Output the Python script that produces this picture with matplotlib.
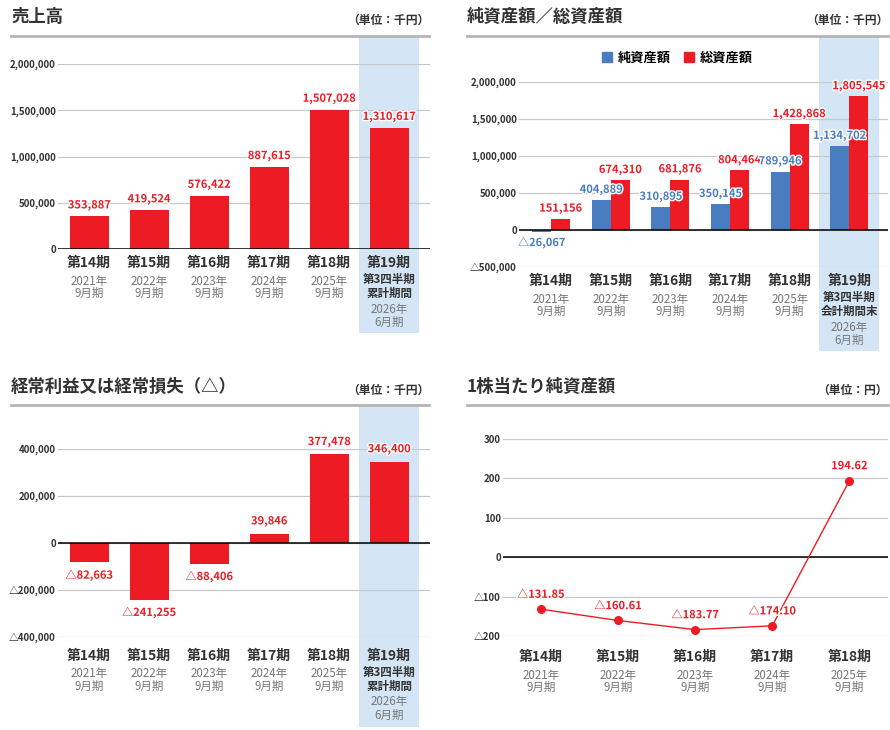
import matplotlib
matplotlib.use("Agg")
import matplotlib.pyplot as plt
import matplotlib.transforms as mtransforms
import matplotlib.patheffects as pe
from matplotlib.patches import Rectangle, Patch
from matplotlib.lines import Line2D
from matplotlib.ticker import FuncFormatter

plt.rcParams['font.family'] = ['Noto Sans CJK JP', 'DejaVu Sans']

# --- data (千円 / 円) ---
periods = ['第14期', '第15期', '第16期', '第17期', '第18期', '第19期']
years = ['2021年', '2022年', '2023年', '2024年', '2025年', '2026年']
months = ['9月期', '9月期', '9月期', '9月期', '9月期', '6月期']
q3_cumulative = ['第3四半期', '累計期間']
q3_end = ['第3四半期', '会計期間末']

sales = [353887, 419524, 576422, 887615, 1507028, 1310617]
net_assets = [-26067, 404889, 310895, 350145, 789946, 1134702]
total_assets = [151156, 674310, 681876, 804464, 1428868, 1805545]
ordinary_profit = [-82663, -241255, -88406, 39846, 377478, 346400]
bps = [-131.85, -160.61, -183.77, -174.10, 194.62]

sales_ticks = [0, 500000, 1000000, 1500000, 2000000]
assets_ticks = [-500000, 0, 500000, 1000000, 1500000, 2000000]
profit_ticks = [-400000, -200000, 0, 200000, 400000]
bps_ticks = [-200, -100, 0, 100, 200, 300]

RED = '#ed1c24'
BLUE = '#4a7dbf'
BAND = '#d4e6f6'
DARK = '#333333'
GRAY = '#777777'

W, H = 890, 730
fig = plt.figure(figsize=(W / 100, H / 100), dpi=100)
halo = [pe.withStroke(linewidth=2, foreground='white')]


def fy(py):
    return 1 - py / H


def axes_px(x0, y0, x1, y1):
    return fig.add_axes([x0 / W, 1 - y1 / H, (x1 - x0) / W, (y1 - y0) / H])


def fmt(v, dec=0):
    s = f"{abs(v):,.{dec}f}"
    return ('△' if v < 0 else '') + s


def header(title, unit, x0, x1, y_title, y_line):
    fig.text(x0 / W, fy(y_title), title, fontsize=12.5, weight='bold',
             ha='left', va='center', color=DARK)
    fig.text(x1 / W, fy(y_title + 3), unit, fontsize=8.5, weight='bold',
             ha='right', va='center', color=DARK)
    fig.add_artist(Line2D([x0 / W, x1 / W], [fy(y_line)] * 2,
                          color='#b5b5b5', lw=2))


def style_axes(ax, ticks, ylim, xlim, dec=0):
    ax.set_xlim(*xlim)
    ax.set_ylim(*ylim)
    ax.set_yticks(ticks)
    ax.yaxis.set_major_formatter(FuncFormatter(lambda v, p: fmt(v, dec)))
    ax.set_xticks([])
    for s in ax.spines.values():
        s.set_visible(False)
    ax.tick_params(axis='y', length=0, pad=1.5, labelsize=7, labelcolor=DARK)
    for t in ax.get_yticklabels():
        t.set_fontweight('bold')
    ax.set_axisbelow(True)
    ax.grid(axis='y', color='#c8c8c8', lw=0.9, zorder=0.5)
    ax.axhline(0, color='black', lw=1.1, zorder=3)
    ax.patch.set_alpha(0)


def band(ax, y_top, y_bottom):
    tr = mtransforms.blended_transform_factory(ax.transData, fig.transFigure)
    r = Rectangle((4.5, fy(y_bottom)), 1.0, fy(y_top) - fy(y_bottom),
                  transform=tr, facecolor=BAND, edgecolor='none',
                  clip_on=False, zorder=0.1)
    ax.add_artist(r)


def cat_labels(ax, y0, n, last_lines=None):
    tr = mtransforms.blended_transform_factory(ax.transData, fig.transFigure)
    for i in range(n):
        ax.text(i, fy(y0), periods[i], transform=tr, ha='center', va='center',
                fontsize=10, weight='bold', color=DARK)
        if last_lines is not None and i == n - 1:
            ax.text(i, fy(y0 + 16), last_lines[0], transform=tr, ha='center',
                    va='center', fontsize=8.3, weight='bold', color=DARK)
            ax.text(i, fy(y0 + 30), last_lines[1], transform=tr, ha='center',
                    va='center', fontsize=8.3, weight='bold', color=DARK)
            ax.text(i, fy(y0 + 46), years[i], transform=tr, ha='center',
                    va='center', fontsize=8.3, color=GRAY)
            ax.text(i, fy(y0 + 59), months[i], transform=tr, ha='center',
                    va='center', fontsize=8.3, color=GRAY)
        else:
            ax.text(i, fy(y0 + 18), years[i], transform=tr, ha='center',
                    va='center', fontsize=8.3, color=GRAY)
            ax.text(i, fy(y0 + 30), months[i], transform=tr, ha='center',
                    va='center', fontsize=8.3, color=GRAY)


def bar_value_labels(ax, xs, vals, color, off=3.5):
    for x, v in zip(xs, vals):
        ax.annotate(fmt(v), (x, v), xytext=(0, off if v >= 0 else -off),
                    textcoords='offset points', ha='center',
                    va='bottom' if v >= 0 else 'top', fontsize=8,
                    weight='bold', color=color, path_effects=halo, zorder=5)


x6 = list(range(len(periods)))

# --- 売上高 ---
header('売上高', '（単位：千円）', 11, 429, 17, 36)
ax1 = axes_px(58, 64, 430, 249)
style_axes(ax1, sales_ticks, (0, 2000000), (-0.52, 5.68))
band(ax1, 37, 333)
ax1.bar(x6, sales, width=0.65, color=RED, zorder=2)
bar_value_labels(ax1, x6, sales, RED)
cat_labels(ax1, 263, 6, q3_cumulative)

# --- 純資産額／総資産額 ---
header('純資産額／総資産額', '（単位：千円）', 467, 888, 17, 36)
ax2 = axes_px(519, 82, 888, 267)
style_axes(ax2, assets_ticks, (-500000, 2000000), (-0.54, 5.65))
band(ax2, 37, 351)
bw = 0.32
xb = [i - bw / 2 for i in x6]
xr = [i + bw / 2 for i in x6]
ax2.bar(xb, net_assets, width=bw, color=BLUE, zorder=2)
ax2.bar(xr, total_assets, width=bw, color=RED, zorder=2)
bar_value_labels(ax2, xr, total_assets, RED, off=3)
bar_value_labels(ax2, xb, net_assets, BLUE, off=3)
cat_labels(ax2, 281, 6, q3_end)
ax2.legend(handles=[Patch(color=BLUE, label='純資産額'),
                    Patch(color=RED, label='総資産額')],
           loc='center', bbox_to_anchor=(677 / W, fy(58)),
           bbox_transform=fig.transFigure, ncol=2, frameon=False,
           handlelength=0.8, handleheight=0.8, handletextpad=0.4,
           columnspacing=1.0, prop={'size': 9.5, 'weight': 'bold'})

# --- 経常利益又は経常損失（△） ---
header('経常利益又は経常損失（△）', '（単位：千円）', 11, 429, 387, 405)
ax3 = axes_px(58, 449, 430, 637)
style_axes(ax3, profit_ticks, (-400000, 400000), (-0.52, 5.68))
band(ax3, 406, 727)
ax3.bar(x6, ordinary_profit, width=0.65, color=RED, zorder=2)
bar_value_labels(ax3, x6, ordinary_profit, RED, off=4.5)
cat_labels(ax3, 656, 6, q3_cumulative)

# --- 1株当たり純資産額 ---
header('1株当たり純資産額', '（単位：円）', 467, 888, 387, 405)
ax4 = axes_px(503, 439, 888, 636)
style_axes(ax4, bps_ticks, (-200, 300), (-0.49, 4.5), dec=0)
x5 = list(range(len(bps)))
ax4.plot(x5, bps, color=RED, lw=1, marker='o', ms=5.5, zorder=4)
for x, v in zip(x5, bps):
    ax4.annotate(fmt(v, 2), (x, v), xytext=(0, 6), textcoords='offset points',
                 ha='center', va='bottom', fontsize=8, weight='bold',
                 color=RED, path_effects=halo, zorder=5)
cat_labels(ax4, 657, 5)

fig.savefig('out.png', dpi=100)
